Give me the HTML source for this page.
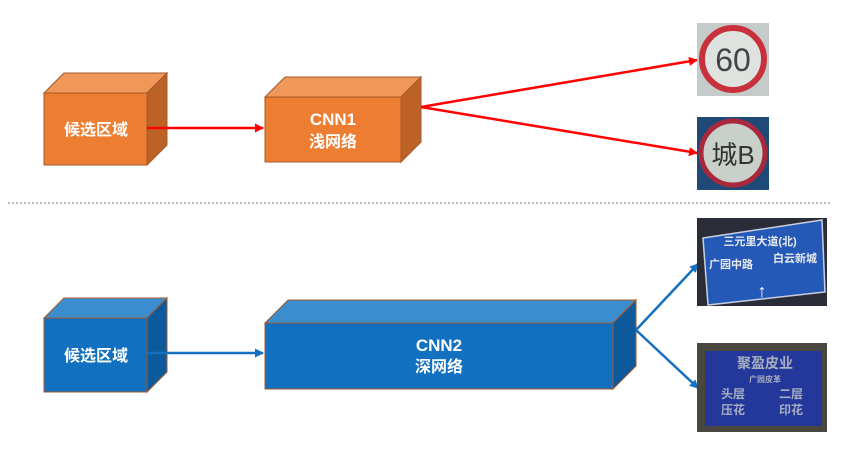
<!DOCTYPE html>
<html><head><meta charset="utf-8"><style>
body{margin:0;background:#fff;width:850px;height:463px;overflow:hidden}
svg{display:block}
text{font-family:"Liberation Sans","Noto Sans CJK SC",sans-serif;font-weight:bold}
text.n{font-weight:normal}
</style></head><body>
<svg width="850" height="463" viewBox="0 0 850 463">
<defs>
<marker id="ar" markerWidth="9" markerHeight="9" refX="8" refY="4.5" orient="auto" markerUnits="userSpaceOnUse"><path d="M0,0 L9,4.5 L0,9z" fill="#f00"/></marker>
<marker id="ab" markerWidth="9" markerHeight="9" refX="8" refY="4.5" orient="auto" markerUnits="userSpaceOnUse"><path d="M0,0 L9,4.5 L0,9z" fill="#1570c0"/></marker>
</defs>
<g stroke="#a5592a" stroke-width="1">
<polygon points="44,93 64,73 167,73 147,93" fill="#f0975a"/>
<polygon points="147,93 167,73 167,145 147,165" fill="#bd6226"/>
<rect x="44" y="93" width="103" height="72" fill="#ed7d31"/>
<polygon points="265,97 285,77 421,77 401,97" fill="#f0975a"/>
<polygon points="401,97 421,77 421,142 401,162" fill="#bd6226"/>
<rect x="265" y="97" width="136" height="65" fill="#ed7d31"/>
<polygon points="44,318 64,298 167,298 147,318" fill="#3a8ed0"/>
<polygon points="147,318 167,298 167,372 147,392" fill="#0c5a9c"/>
<rect x="44" y="318" width="103" height="74" fill="#1170c0"/>
<polygon points="265,323 288,300 636,300 613,323" fill="#3a8ed0"/>
<polygon points="613,323 636,300 636,366 613,389" fill="#0c5a9c"/>
<rect x="265" y="323" width="348" height="66" fill="#1170c0"/>
</g>
<g fill="#fff" font-size="16" text-anchor="middle">
<text x="96" y="135">候选区域</text>
<text x="333" y="125" font-size="17">CNN1</text>
<text x="333" y="147">浅网络</text>
<text x="96" y="361">候选区域</text>
<text x="439" y="351" font-size="17">CNN2</text>
<text x="439" y="372">深网络</text>
</g>
<g stroke="#f00" stroke-width="2.5" fill="none">
<line x1="147" y1="128" x2="263" y2="128" marker-end="url(#ar)"/>
<line x1="421" y1="107" x2="697" y2="60" marker-end="url(#ar)"/>
<line x1="421" y1="107" x2="697" y2="153" marker-end="url(#ar)"/>
</g>
<g stroke="#1570c0" stroke-width="2.5" fill="none">
<line x1="147" y1="353" x2="263" y2="353" marker-end="url(#ab)"/>
<line x1="636" y1="330" x2="698" y2="264" marker-end="url(#ab)"/>
<line x1="636" y1="330" x2="698" y2="388" marker-end="url(#ab)"/>
</g>
<line x1="8" y1="203" x2="830" y2="203" stroke="#777" stroke-width="1" stroke-dasharray="2,2"/>
<rect x="697" y="23" width="72" height="73" fill="#c5cbc9"/>
<circle cx="733" cy="59" r="31" fill="#dfe3e0" stroke="#c8303c" stroke-width="6"/>
<text class="n" x="733" y="71" font-size="32" text-anchor="middle" fill="#444">60</text>
<rect x="697" y="117" width="72" height="73" fill="#1f4a78"/>
<circle cx="733" cy="153" r="32" fill="#c9cfc9" stroke="#a8283c" stroke-width="5"/>
<text class="n" x="733" y="164" font-size="26" text-anchor="middle" fill="#333">城B</text>
<rect x="697" y="218" width="130" height="88" fill="#2a2d38"/>
<polygon points="703,238 822,220 825,292 708,305" fill="#2459b8" stroke="#c8d0e0" stroke-width="1.5"/>
<text x="760" y="245" font-size="11" text-anchor="middle" fill="#e8eaf0">三元里大道(北)</text>
<text x="731" y="268" font-size="11" text-anchor="middle" fill="#e8eaf0">广园中路</text>
<text x="795" y="262" font-size="11" text-anchor="middle" fill="#e8eaf0">白云新城</text>
<text x="762" y="297" font-size="18" text-anchor="middle" fill="#fff">↑</text>
<rect x="697" y="343" width="130" height="89" fill="#4a4640"/>
<rect x="705" y="351" width="117" height="75" fill="#23389a"/>
<text x="765" y="368" font-size="14" text-anchor="middle" fill="#a8b0c0">聚盈皮业</text>
<text x="765" y="382" font-size="8" text-anchor="middle" fill="#a8b0c0">广园皮革</text>
<text x="733" y="398" font-size="12" text-anchor="middle" fill="#a8b0c0">头层</text>
<text x="791" y="398" font-size="12" text-anchor="middle" fill="#a8b0c0">二层</text>
<text x="733" y="414" font-size="12" text-anchor="middle" fill="#a8b0c0">压花</text>
<text x="791" y="414" font-size="12" text-anchor="middle" fill="#a8b0c0">印花</text>
</svg>
</body></html>
